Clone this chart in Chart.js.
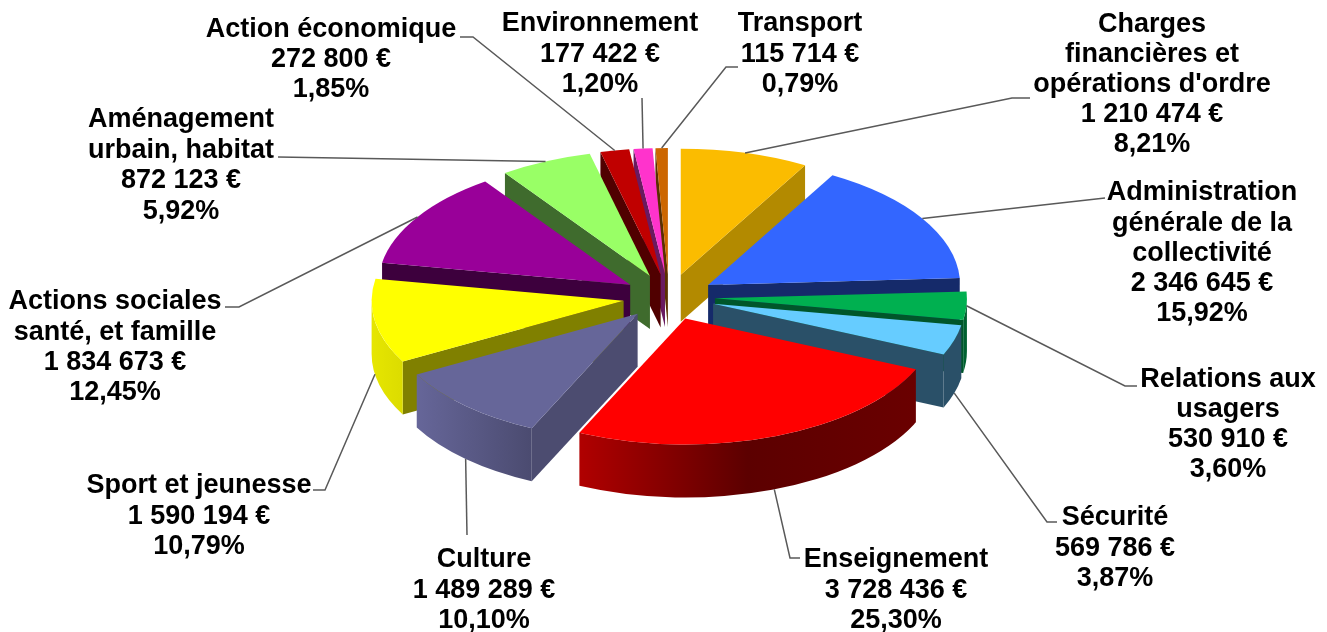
<!DOCTYPE html>
<html>
<head>
<meta charset="utf-8">
<title>Budget</title>
<script src="https://cdn.jsdelivr.net/npm/chart.js@4"></script>
<style>
  html, body { margin: 0; padding: 0; background: #fff; }
  canvas { display: block; }
</style>
</head>
<body>
<canvas id="pie" width="1327" height="632"></canvas>
<script>
const categories = [
  ['Charges', 'financières et', "opérations d'ordre"],
  ['Administration', 'générale de la', 'collectivité'],
  ['Relations aux', 'usagers'],
  ['Sécurité'],
  ['Enseignement'],
  ['Culture'],
  ['Sport et jeunesse'],
  ['Actions sociales', 'santé, et famille'],
  ['Aménagement', 'urbain, habitat'],
  ['Action économique'],
  ['Environnement'],
  ['Transport']
];
const amounts = [1210474, 2346645, 530910, 569786, 3728436, 1489289, 1590194, 1834673, 872123, 272800, 177422, 115714];
const percents = ['8,21%', '15,92%', '3,60%', '3,87%', '25,30%', '10,10%', '10,79%', '12,45%', '5,92%', '1,85%', '1,20%', '0,79%'];

// top face, cut wall, outer wall (array = left to right gradient)
const topColors = ['#FBBC00', '#3366FF', '#00B050', '#66CCFF', '#FF0000', '#666699', '#FFFF00', '#990099', '#99FF66', '#C00000', '#FF33CC', '#CC6600'];
const cutColors = ['#B38A00', '#152A6A', '#00562A', '#2A5068', '#5E0000', '#4C4C70', '#808000', '#3D003D', '#3F6B2D', '#500000', '#6A1A60', '#5A3000'];
const wallColors = ['#B38A00', '#152A6A', ['#006030', '#006030'], ['#2A5068', '#2A5068'], ['#B00000', '#5C0000', '#6A0000'], ['#666699', '#4B4B70'], ['#E6E600', '#DCDC00'], '#3D003D', '#3F6B2D', '#500000', '#6A1A60', '#5A3000'];

// label block: centre x, first line y, line height, then the leader from label side
const labelBoxes = [
  { x: 1152, y: 25, lh: 30, leader: [[1030, 98], [1012, 98]] },
  { x: 1202, y: 193, lh: 30.2, leader: [[1105, 198]] },
  { x: 1228, y: 380, lh: 30, leader: [[1137, 386], [1125, 386]] },
  { x: 1115, y: 518, lh: 30.5, leader: [[1057, 522], [1047, 522]], bottom: true },
  { x: 896, y: 560, lh: 30.5, leader: [[800, 558], [790, 558]], bottom: true },
  { x: 484, y: 560, lh: 30.5, leader: [[467, 535]], bottom: true },
  { x: 199, y: 486, lh: 30.5, leader: [[313, 490], [325, 490]], bottom: true },
  { x: 115, y: 302, lh: 30.3, leader: [[225, 307], [239, 307]] },
  { x: 181, y: 120, lh: 30.5, leader: [[278, 157]] },
  { x: 331, y: 30, lh: 30, leader: [[460, 37], [473, 37]] },
  { x: 600, y: 24, lh: 30.5, leader: [[642, 98]] },
  { x: 800, y: 24, lh: 30.5, leader: [[738, 67], [726, 67]] }
];

const SQUASH = 0.5;
const DEPTH = 53;
const BACK_DEPTH = 47; // the slice at the back is drawn a bit thinner

function money(v) {
  return String(v).replace(/\B(?=(\d{3})+$)/g, ' ') + ' €';
}

// flattened, extruded drawing of the pie using the arc geometry chart.js computed
const pie3d = {
  id: 'pie3d',
  beforeDatasetsDraw(chart) {
    const ctx = chart.ctx;
    const arcs = chart.getDatasetMeta(0).data;
    const slices = arcs.map((arc, i) => {
      const p = arc.getProps(['x', 'y', 'startAngle', 'endAngle', 'outerRadius'], true);
      const mid = (p.startAngle + p.endAngle) / 2;
      const off = arc.options.offset;
      return {
        i, mid,
        a0: p.startAngle, a1: p.endAngle, r: p.outerRadius,
        depth: i === 0 ? BACK_DEPTH : DEPTH,
        cx: p.x + Math.cos(mid) * off,
        cy: p.y + Math.sin(mid) * off * SQUASH
      };
    });
    const rimPoint = (s, a, dy) => [s.cx + Math.cos(a) * s.r, s.cy + Math.sin(a) * s.r * SQUASH + (dy || 0)];

    const drawCut = (s, a) => {
      const rim = rimPoint(s, a);
      ctx.beginPath();
      ctx.moveTo(s.cx, s.cy);
      ctx.lineTo(rim[0], rim[1]);
      ctx.lineTo(rim[0], rim[1] + s.depth);
      ctx.lineTo(s.cx, s.cy + s.depth);
      ctx.closePath();
      ctx.fillStyle = cutColors[s.i];
      ctx.fill();
    };

    [...slices].sort((a, b) => Math.sin(a.mid) - Math.sin(b.mid)).forEach(s => {
      // chart.js angles: 0 points right, growing clockwise on screen
      if (Math.cos(s.a0) < 0) drawCut(s, s.a0);
      if (Math.cos(s.a1) > 0) drawCut(s, s.a1);

      const from = Math.max(s.a0, 0);
      const to = Math.min(s.a1, Math.PI);
      if (to > from) {
        ctx.beginPath();
        ctx.ellipse(s.cx, s.cy, s.r, s.r * SQUASH, 0, from, to);
        ctx.ellipse(s.cx, s.cy + s.depth, s.r, s.r * SQUASH, 0, to, from, true);
        ctx.closePath();
        const wall = wallColors[s.i];
        if (Array.isArray(wall)) {
          const l = rimPoint(s, to)[0];
          const r = rimPoint(s, from)[0];
          const g = ctx.createLinearGradient(l, 0, r, 0);
          wall.forEach((c, k) => g.addColorStop(k / (wall.length - 1), c));
          ctx.fillStyle = g;
        } else {
          ctx.fillStyle = wall;
        }
        ctx.fill();
      }

      ctx.beginPath();
      ctx.moveTo(s.cx, s.cy);
      ctx.ellipse(s.cx, s.cy, s.r, s.r * SQUASH, 0, s.a0, s.a1);
      ctx.closePath();
      ctx.fillStyle = topColors[s.i];
      ctx.fill();
    });

    // leaders and labels
    slices.forEach(s => {
      const box = labelBoxes[s.i];
      const end = rimPoint(s, s.mid, box.bottom ? s.depth : 0);
      ctx.beginPath();
      box.leader.forEach((pt, k) => k ? ctx.lineTo(pt[0], pt[1]) : ctx.moveTo(pt[0], pt[1]));
      ctx.lineTo(end[0], end[1]);
      ctx.strokeStyle = '#595959';
      ctx.lineWidth = 1.5;
      ctx.stroke();

      const lines = [...categories[s.i], money(amounts[s.i]), percents[s.i]];
      ctx.fillStyle = '#000';
      ctx.font = 'bold 27px "Liberation Sans", Arial, sans-serif';
      ctx.textAlign = 'center';
      ctx.textBaseline = 'middle';
      lines.forEach((t, k) => ctx.fillText(t, box.x, box.y + k * box.lh));
    });
    return false;
  }
};

new Chart(document.getElementById('pie'), {
  type: 'pie',
  data: {
    labels: categories.map(c => c.join(' ')),
    datasets: [{
      data: amounts,
      backgroundColor: topColors,
      borderWidth: 0,
      offset: 46,
      radius: 252
    }]
  },
  options: {
    responsive: false,
    animation: false,
    layout: { padding: { left: 11, bottom: 38 } },
    plugins: {
      legend: { display: false },
      tooltip: { enabled: false }
    }
  },
  plugins: [pie3d]
});
</script>
</body>
</html>
